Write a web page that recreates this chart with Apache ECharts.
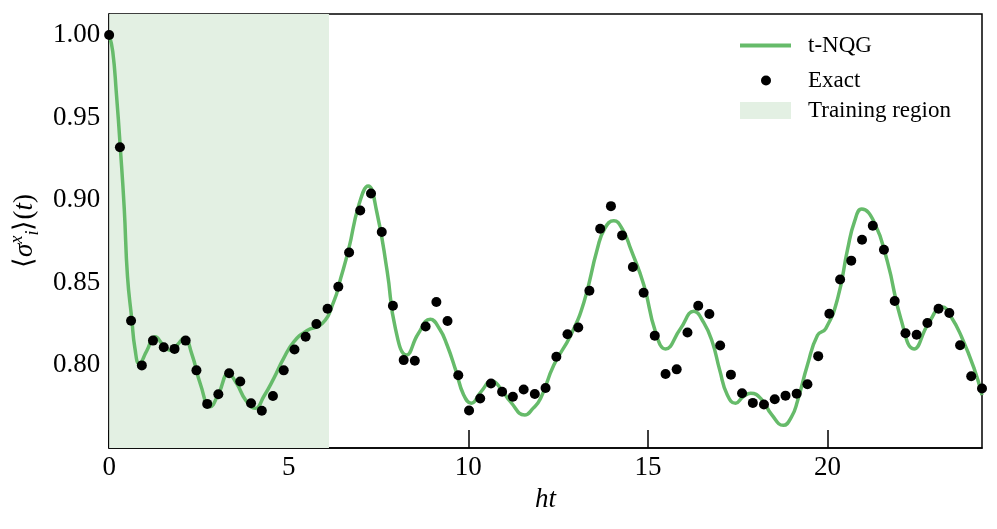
<!DOCTYPE html>
<html>
<head>
<meta charset="utf-8">
<script src="https://cdn.jsdelivr.net/npm/echarts@6/dist/echarts.min.js"></script>
<style>
html,body{margin:0;padding:0;background:#fff;}
#chart{width:997px;height:529px;}
</style>
</head>
<body>
<div id="chart"></div>
<script>
// Exact data: times and values
var exactT = [0, 0.30, 0.61, 0.91, 1.22, 1.52, 1.82, 2.13, 2.43, 2.73,
  3.04, 3.34, 3.65, 3.95, 4.25, 4.56, 4.86, 5.16, 5.47, 5.77,
  6.08, 6.38, 6.68, 6.99, 7.29, 7.59, 7.90, 8.20, 8.51, 8.81,
  9.11, 9.42, 9.72, 10.02, 10.33, 10.63, 10.94, 11.24, 11.54, 11.85,
  12.15, 12.45, 12.76, 13.06, 13.37, 13.67, 13.97, 14.28, 14.58, 14.88,
  15.19, 15.49, 15.80, 16.10, 16.40, 16.71, 17.01, 17.31, 17.62, 17.92,
  18.23, 18.53, 18.83, 19.14, 19.44, 19.74, 20.05, 20.35, 20.66, 20.96,
  21.26, 21.57, 21.87, 22.17, 22.48, 22.78, 23.09, 23.39, 23.69, 24.00, 24.30];
var exactY = [1.000, 0.932, 0.827, 0.800, 0.815, 0.811, 0.810, 0.815, 0.797, 0.7767,
  0.7825, 0.7952, 0.7902, 0.7771, 0.7725, 0.7815, 0.797, 0.8096, 0.8173, 0.8251,
  0.8343, 0.8476, 0.8683, 0.8938, 0.904, 0.8807, 0.8361, 0.8032, 0.8028, 0.8235,
  0.8384, 0.8269, 0.794, 0.7727, 0.780, 0.789, 0.784, 0.781, 0.7854, 0.7827,
  0.7863, 0.8052, 0.8189, 0.8229, 0.8452, 0.8827, 0.8964, 0.8787, 0.8596, 0.844,
  0.818, 0.7948, 0.7976, 0.8199, 0.8361, 0.8311, 0.812, 0.7944, 0.7831, 0.7773,
  0.7763, 0.7795, 0.7817, 0.7829, 0.7886, 0.8056, 0.8313, 0.852, 0.8634, 0.8761,
  0.8845, 0.870, 0.839, 0.8195, 0.8185, 0.8257, 0.8343, 0.8317, 0.8122, 0.7934, 0.786];

// t-NQG curve samples
var nqgT = [0, 0.10, 0.20, 0.31, 0.42, 0.51, 0.63, 0.72, 0.84, 1.05,
  1.28, 1.50, 1.70, 1.90, 2.09, 2.30, 2.55, 2.81, 3.05, 3.32,
  3.55, 3.80, 4.07, 4.30, 4.58, 4.85, 5.14, 5.50, 5.93, 6.25,
  6.45, 6.67, 6.95, 7.21, 7.45, 7.74, 7.97, 8.28, 8.60, 8.94,
  9.20, 9.41, 9.65, 9.87, 10.08, 10.35, 10.66, 10.90, 11.17, 11.57,
  11.80, 12.01, 12.38, 12.85, 13.22, 13.59, 13.80, 14.05, 14.30, 14.52,
  14.89, 15.21, 15.49, 15.90, 16.28, 16.55, 16.79, 17.00, 17.21, 17.44,
  17.65, 17.86, 18.14, 18.45, 18.77, 19.00, 19.16, 19.44, 19.72, 19.95,
  20.28, 20.56, 20.75, 20.95, 21.30, 21.67, 22.04, 22.41, 22.80, 23.20,
  23.45, 23.71, 24.08, 24.30];
var nqgY = [1.000, 0.990, 0.965, 0.932, 0.895, 0.854, 0.828, 0.810, 0.801, 0.809,
  0.8173, 0.8125, 0.809, 0.8125, 0.8167, 0.807, 0.788, 0.775, 0.783, 0.795,
  0.789, 0.779, 0.774, 0.781, 0.792, 0.804, 0.8143, 0.821, 0.8253, 0.8384,
  0.853, 0.8705, 0.897, 0.9086, 0.893, 0.857, 0.8223, 0.8063, 0.819, 0.8279,
  0.822, 0.8122, 0.797, 0.7821, 0.7771, 0.784, 0.7906, 0.786, 0.7781, 0.770,
  0.774, 0.780, 0.8002, 0.8183, 0.8384, 0.8705, 0.883, 0.8876, 0.882, 0.8705,
  0.8484, 0.8203, 0.810, 0.822, 0.8327, 0.826, 0.8143, 0.797, 0.7821, 0.7771,
  0.781, 0.7831, 0.780, 0.770, 0.7637, 0.769, 0.7781, 0.8002, 0.8183, 0.8223,
  0.8404, 0.8705, 0.887, 0.8946, 0.8866, 0.8625, 0.8283, 0.810, 0.825, 0.8354,
  0.829, 0.8183, 0.7982, 0.782];

var trainingRegion = [0, 6.12];
var yTickLabels = ['0.80', '0.85', '0.90', '0.95', '1.00'];
var xTickLabels = ['0', '5', '10', '15', '20'];

var exactData = exactT.map(function (t, i) { return [t, exactY[i]]; });
var nqgData = nqgT.map(function (t, i) { return [t, nqgY[i]]; });

var FONT = 'Liberation Serif';
var GREEN = '#66bb6a';
var SHADE = '#e3f0e3';

var chart = echarts.init(document.getElementById('chart'), null, {renderer: 'canvas'});
function legendText(padLeft) {
  return {fontFamily: FONT, fontSize: 23, color: '#000', padding: [0, 0, 0, padLeft]};
}
chart.setOption({
  animation: false,
  backgroundColor: '#fff',
  grid: {left: 109, right: 15, top: 14, bottom: 81, show: true, borderColor: '#000', borderWidth: 1.5, backgroundColor: 'transparent'},
  legend: [
    {data: [{name: 't-NQG', icon: 'rect', itemStyle: {color: GREEN}}], left: 740, top: 34, padding: 0, itemWidth: 51, itemHeight: 4, textStyle: legendText(12), selectedMode: false},
    {data: [{name: 'Exact', icon: 'circle', itemStyle: {color: '#000', opacity: 1}}], left: 761, top: 69, padding: 0, itemWidth: 10, itemHeight: 10, textStyle: legendText(32), selectedMode: false},
    {data: [{name: 'Training region', icon: 'rect'}], left: 740, top: 99, padding: 0, itemWidth: 51, itemHeight: 17, textStyle: legendText(12), selectedMode: false}
  ],
  xAxis: {
    type: 'value', min: 0, max: 24.3, interval: 5,
    name: 'ht', nameLocation: 'middle', nameGap: 38,
    nameTextStyle: {fontFamily: FONT, fontSize: 27, fontStyle: 'italic', color: '#000'},
    axisLine: {lineStyle: {color: '#000', width: 1.5}},
    axisTick: {inside: true, length: 18, lineStyle: {color: '#000', width: 1.5}},
    splitLine: {show: false},
    axisLabel: {
      fontFamily: FONT, fontSize: 27, color: '#000', margin: 6, showMaxLabel: false,
      formatter: function (v) { var s = String(v); return xTickLabels.indexOf(s) >= 0 ? s : ''; }
    }
  },
  yAxis: {
    type: 'value', min: 0.75, max: 1.0127, interval: 0.05,
    name: '⟨{s|σ}{sup|x}{sub|i}⟩({s|t})', nameLocation: 'middle', nameGap: 57,
    nameTextStyle: {
      fontFamily: FONT, fontSize: 27, color: '#000', lineHeight: 34,
      rich: {
        s: {fontFamily: FONT, fontSize: 27, fontStyle: 'italic', color: '#000'},
        sup: {fontFamily: FONT, fontSize: 18, fontStyle: 'italic', color: '#000', verticalAlign: 'top', lineHeight: 34},
        sub: {fontFamily: FONT, fontSize: 18, fontStyle: 'italic', color: '#000', verticalAlign: 'bottom', lineHeight: 34}
      }
    },
    axisLine: {lineStyle: {color: '#000', width: 1.5}},
    axisTick: {inside: true, length: 18, lineStyle: {color: '#000', width: 1.5}},
    splitLine: {show: false},
    axisLabel: {
      fontFamily: FONT, fontSize: 27, color: '#000', margin: 9, showMinLabel: false, showMaxLabel: false,
      formatter: function (v) { var s = v.toFixed(2); return yTickLabels.indexOf(s) >= 0 ? s : ''; }
    }
  },
  series: [
    {
      name: 'Training region', type: 'line', data: [], z: 1,
      color: SHADE, itemStyle: {color: SHADE},
      markArea: {silent: true, itemStyle: {color: SHADE}, data: [[{xAxis: trainingRegion[0]}, {xAxis: trainingRegion[1]}]]}
    },
    {
      name: 't-NQG', type: 'line', data: nqgData, z: 3, smooth: 0.5, showSymbol: false, symbol: 'none',
      color: GREEN, lineStyle: {color: GREEN, width: 3.5}
    },
    {
      name: 'Exact', type: 'scatter', data: exactData, z: 4, symbolSize: 10,
      itemStyle: {color: '#000', opacity: 1}
    }
  ]
});
</script>
</body>
</html>
